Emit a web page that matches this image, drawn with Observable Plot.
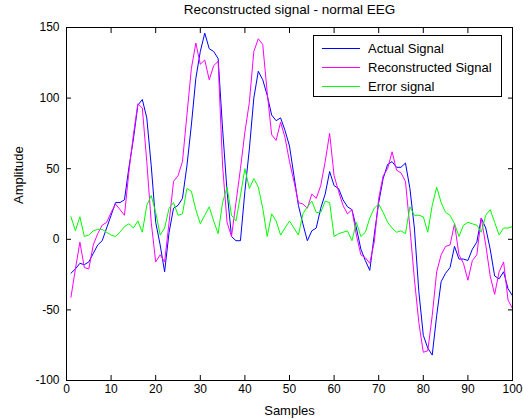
<!DOCTYPE html>
<html><head><meta charset="utf-8">
<script src="https://cdn.jsdelivr.net/npm/d3@7"></script>
<script src="https://cdn.jsdelivr.net/npm/@observablehq/plot@0.6"></script>
<style>body{margin:0;background:#fff;} svg{display:block;}</style>
</head><body><div id="chart"></div>
<script>
const titleText = "Reconstructed signal - normal EEG";
const xLabel = "Samples";
const yLabel = "Amplitude";
const samples = d3.range(1, 101);
const actual = [-24,-21,-17,-18,-16,-10,-4,-1,8,17,
  26,26,28,51,71,95,99,86,52,12,
  -4,-23,5,22,24,29,52,81,114,133,
  146,135,133,128,78,34,2,-1,-1,34,
  64,100,119,113,102,88,84,86,77,66,
  45,24,11,-1,6,8,22,32,48,38,
  36,28,23,21,8,-7,-15,-22,3,26,
  43,53,55,51,51,54,36,8,-37,-68,
  -77,-82,-54,-30,-24,-20,-5,-14,-14,-15,
  -7,-2,15,8,-7,-26,-28,-23,-35,-40];
const reconstructed = [-41,-21,-2,-20,-21,-4,4,10,12,19,
  25,21,17,48,74,96,93,55,12,-16,
  -11,-16,12,41,45,55,88,121,139,124,
  127,113,123,126,52,12,2,26,50,76,
  97,133,142,138,104,74,70,83,72,55,
  41,26,25,22,32,29,38,55,75,45,
  34,24,18,21,3,-11,-13,-17,-2,29,
  45,50,62,49,47,41,8,-28,-59,-80,
  -79,-54,-23,-11,-5,-4,11,-11,-17,-29,
  -15,-11,15,-4,-26,-39,-23,-16,-43,-49];
const errorSig = [16,6,16,2,3,6,7,7,5,3,
  2,5,9,11,8,13,5,24,31,19,
  3,8,22,26,17,18,36,34,21,11,
  17,23,13,4,26,37,17,13,31,50,
  36,43,37,22,2,18,13,3,8,13,
  8,3,18,23,27,19,19,27,26,2,
  4,5,6,-1,12,2,5,15,22,25,
  19,12,8,5,6,4,23,17,17,16,
  5,24,37,26,19,17,11,2,10,12,
  11,10,5,17,21,12,3,8,8,9];
const xTicks = [0,10,20,30,40,50,60,70,80,90,100];
const yTicks = [-100,-50,0,50,100,150];
const seriesNames = ["Actual Signal","Reconstructed Signal","Error signal"];
const seriesColors = ["#0000ff","#ff00ff","#00ff00"];
const seriesValues = [actual, reconstructed, errorSig];

const data = [];
seriesNames.forEach((name, i) => {
  samples.forEach((s, j) => data.push({x: s, y: seriesValues[i][j], series: name}));
});

const font = "'Liberation Sans', Arial, Helvetica, sans-serif";
const chart = Plot.plot({
  width: 523, height: 419,
  marginLeft: 66, marginRight: 11, marginTop: 27, marginBottom: 39,
  style: {fontFamily: font, fontSize: "12px", background: "#fff", color: "#000"},
  x: {domain: [0, 100]},
  y: {domain: [-100, 150]},
  color: {domain: seriesNames, range: seriesColors},
  marks: [
    Plot.line(data, {x: "x", y: "y", z: "series", stroke: "series", strokeWidth: 1}),
    Plot.frame({stroke: "#000"}),
    Plot.axisX({ticks: xTicks, tickSize: -5, tickPadding: 9, tickFormat: d => String(d),
      label: null}),
    Plot.axisX({anchor: "top", ticks: xTicks, tickSize: -5, tickFormat: () => "", label: null}),
    Plot.axisY({ticks: yTicks, tickSize: -5, tickPadding: 12, tickFormat: d => String(d),
      label: null}),
    Plot.axisY({anchor: "right", ticks: yTicks, tickSize: -5, tickFormat: () => "", label: null}),
    Plot.text([titleText], {frameAnchor: "top", dy: -18, fontSize: 13.5, lineAnchor: "middle"}),
    Plot.text([xLabel], {frameAnchor: "bottom", dy: 30, fontSize: 13, lineAnchor: "middle"}),
    Plot.text([yLabel], {frameAnchor: "left", dx: -48, rotate: -90, fontSize: 13, lineAnchor: "middle"})
  ]
});
document.getElementById("chart").appendChild(chart);

// Legend
const svg = d3.select(chart);
const lg = svg.append("g").attr("font-family", font).attr("font-size", 13).attr("text-anchor", "start");
lg.append("rect").attr("x", 313.5).attr("y", 35.5).attr("width", 188).attr("height", 61)
  .attr("fill", "#fff").attr("stroke", "#000");
seriesNames.forEach((n, i) => {
  const yy = 48.5 + i * 19;
  lg.append("line").attr("x1", 322).attr("x2", 360).attr("y1", yy).attr("y2", yy)
    .attr("stroke", seriesColors[i]).attr("stroke-width", 1);
  lg.append("text").attr("x", 368).attr("y", yy).attr("dy", "0.35em").attr("fill", "#000")
    .attr("text-anchor", "start").text(n);
});
</script>
</body></html>
